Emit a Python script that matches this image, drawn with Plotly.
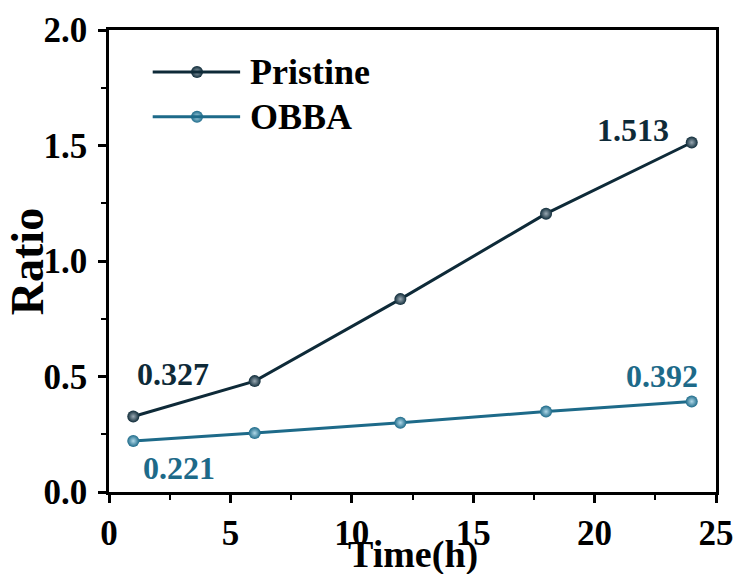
import plotly.graph_objects as go

time_h = [1, 6, 12, 18, 24]
pristine = [0.327, 0.480, 0.835, 1.205, 1.513]
obba = [0.221, 0.255, 0.300, 0.348, 0.392]
series_names = ["Pristine", "OBBA"]

c_pristine = "#0e2a38"
c_obba = "#1d6a89"
font_family = "Liberation Serif"

fig = go.Figure()
for name, vals, c, hi in [(series_names[0], pristine, c_pristine, "#9aa9b3"),
                          (series_names[1], obba, c_obba, "#b0d8e8")]:
    fig.add_trace(go.Scatter(
        x=time_h, y=vals, mode="lines+markers", name=name, showlegend=False,
        line=dict(color=c, width=3),
        marker=dict(size=12, color=c, gradient=dict(type="radial", color=hi),
                    line=dict(width=0))))

# value labels
ann = [
    ("0.327", 2.65, 0.51, c_pristine),
    ("0.221", 2.9, 0.104, c_obba),
    ("1.513", 21.6, 1.567, c_pristine),
    ("0.392", 22.78, 0.502, c_obba),
]
for t, x, y, c in ann:
    fig.add_annotation(x=x, y=y, text=f"<b>{t}</b>", showarrow=False,
                       font=dict(family=font_family, size=32, color=c))

# custom legend (paper coordinates)
legend_rows = [(series_names[0], c_pristine, "#9aa9b3", 0.909),
               (series_names[1], c_obba, "#b0d8e8", 0.812)]
for name, c, hi, yy in legend_rows:
    fig.add_shape(type="line", xref="paper", yref="paper", x0=0.072, x1=0.216, y0=yy, y1=yy,
                  line=dict(color=c, width=3))
    fig.add_trace(go.Scatter(x=[0.145], y=[yy], xaxis="x2", yaxis="y2", mode="markers",
                             showlegend=False, hoverinfo="skip",
                             marker=dict(size=12, color=c, gradient=dict(type="radial", color=hi))))
    fig.add_annotation(xref="paper", yref="paper", x=0.229, y=yy, xanchor="left", yanchor="middle",
                       text=f"<b>{name}</b>", showarrow=False,
                       font=dict(family=font_family, size=36, color="black"))

# axis titles
fig.add_annotation(xref="paper", yref="paper", x=0.5, y=-0.135, xanchor="center", yanchor="middle",
                   text="<b>Time(h)</b>", showarrow=False,
                   font=dict(family=font_family, size=38, color="black"))
fig.add_annotation(xref="paper", yref="paper", x=-0.133, y=0.498, xanchor="center", yanchor="middle",
                   text="<b>Ratio</b>", showarrow=False, textangle=-90,
                   font=dict(family=font_family, size=46, color="black"))

axis_common = dict(
    showline=True, linecolor="black", linewidth=2.5, mirror=True,
    ticks="outside", tickwidth=2.5, ticklen=8, tickcolor="black",
    showgrid=False, zeroline=False, automargin=False,
    tickfont=dict(family=font_family, size=35, color="black"),
)

fig.update_xaxes(range=[0, 25], tickvals=[0, 5, 10, 15, 20, 25],
                 ticktext=["<b>0</b>", "<b>5</b>", "<b>10</b>", "<b>15</b>", "<b>20</b>", "<b>25</b>"],
                 minor=dict(dtick=2.5, tick0=0, ticks="outside", ticklen=5, tickwidth=2, tickcolor="black"),
                 **axis_common)
fig.update_yaxes(range=[0, 2.0], tickvals=[0, 0.5, 1.0, 1.5, 2.0],
                 ticktext=["<b>0.0</b>", "<b>0.5</b>", "<b>1.0</b>", "<b>1.5</b>", "<b>2.0</b>"],
                 minor=dict(dtick=0.25, tick0=0, ticks="outside", ticklen=5, tickwidth=2, tickcolor="black"),
                 ticklabelstandoff=4,
                 **axis_common)

fig.update_layout(
    width=738, height=574,
    margin=dict(l=109, r=22, t=30, b=82),
    plot_bgcolor="white", paper_bgcolor="white",
    xaxis2=dict(range=[0, 1], overlaying="x", visible=False, domain=[0, 1], anchor="y2"),
    yaxis2=dict(range=[0, 1], overlaying="y", visible=False, anchor="x2"),
    showlegend=False,
)

fig.write_html("out.html")
